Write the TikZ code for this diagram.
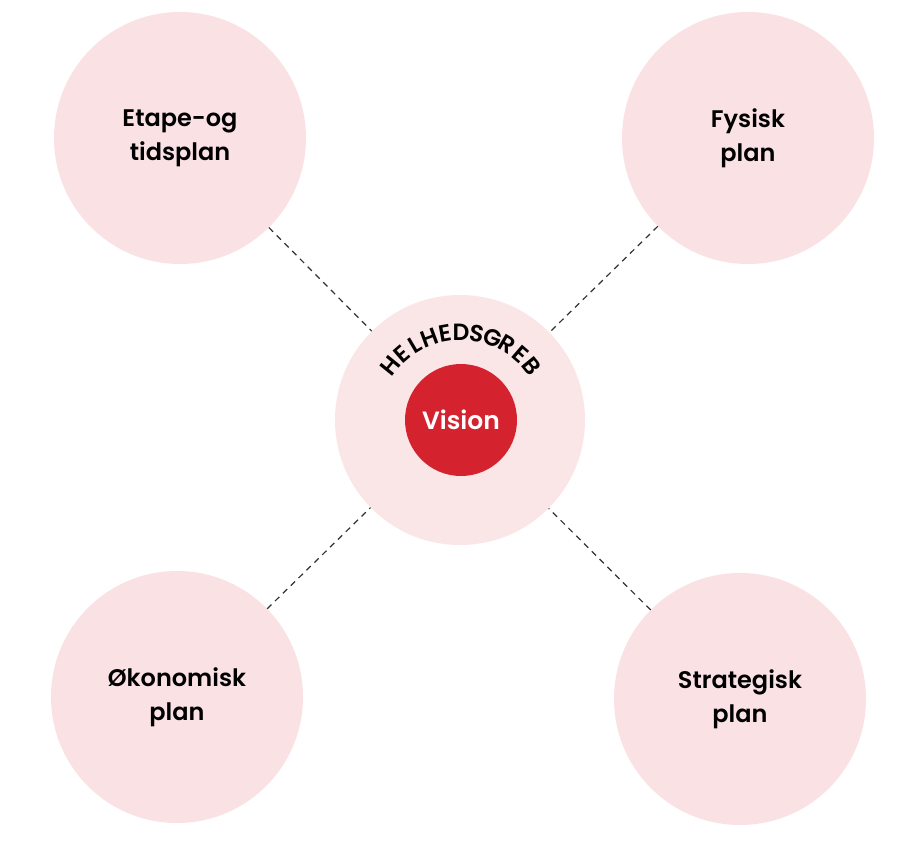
\documentclass[tikz,border=0pt]{standalone}
\usepackage{fontspec}
\setmainfont{Poppins}[UprightFont=* Medium, BoldFont=* SemiBold]
\definecolor{pinkfill}{RGB}{250,226,228}
\definecolor{pinkcenter}{RGB}{251,230,231}
\definecolor{visred}{RGB}{212,34,46}
\definecolor{dashgray}{RGB}{50,50,50}
\begin{document}
\begin{tikzpicture}[x=1pt,y=-1pt,
  plancircle/.style={circle,fill=pinkfill,minimum size=252pt,inner sep=0pt,align=center,font=\bfseries\fontsize{24}{34}\selectfont,text=black},
  hubcircle/.style={circle,fill=pinkcenter,minimum size=250pt,inner sep=0pt},
  visioncircle/.style={circle,fill=visred,minimum size=112pt,inner sep=0pt,text=white,font=\bfseries\fontsize{25}{28}\selectfont},
  arcletter/.style={inner sep=0pt,text=black,font=\bfseries\fontsize{23.5}{26}\selectfont},
  link/.style={draw=dashgray,line width=1.2pt,dash pattern=on 6pt off 5pt}]
\useasboundingbox (0,0) rectangle (897,841);
\fill[white] (0,0) rectangle (897,841);
\node[plancircle] (tl) at (180,138) {Etape-og\\tidsplan};
\node[plancircle] (tr) at (748,138) {Fysisk\\plan};
\node[plancircle] (bl) at (177,697) {Økonomisk\\plan};
\node[plancircle] (br) at (740,699) {Strategisk\\plan};
\node[hubcircle] (hub) at (460,420) {};
\node[visioncircle] (vis) at (461,420) {Vision};
\coordinate (arcc) at (461,423);
\foreach \ch [count=\i from 0] in {H,E,L,H,E,D,S,G,R,E,B}{
  \pgfmathsetmacro{\ang}{141-\i*10.2}
  \node[arcletter,rotate=\ang-90] (helh\i) at ([shift={(-\ang:91)}]arcc) {\ch};
}
\path[link] (tl) -- (hub);
\path[link] (tr) -- (hub);
\path[link] (bl) -- (hub);
\path[link] (br) -- (hub);
\end{tikzpicture}
\end{document}
